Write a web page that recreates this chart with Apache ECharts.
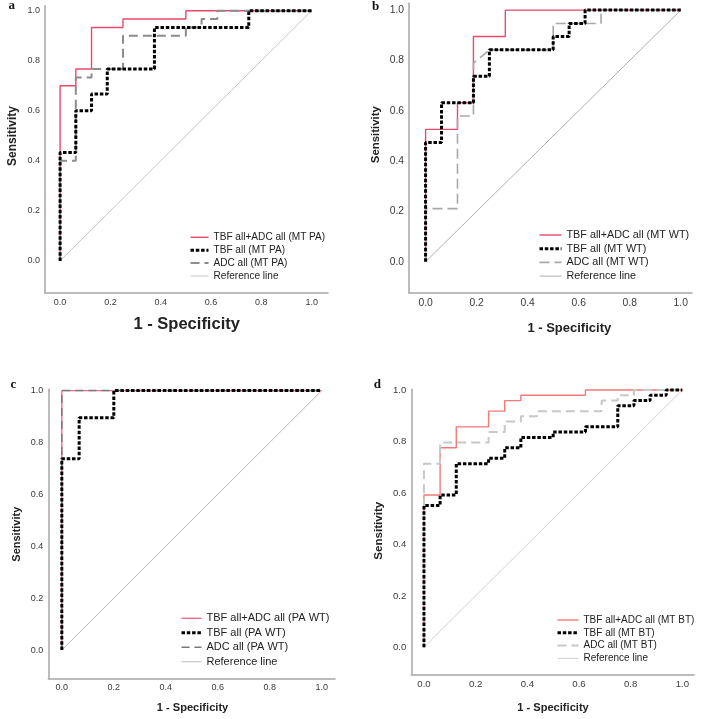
<!DOCTYPE html>
<html>
<head>
<meta charset="utf-8">
<script src="https://cdn.jsdelivr.net/npm/echarts@6/dist/echarts.min.js"></script>
<style>
html,body{margin:0;padding:0;background:#fff;}
#chart{width:708px;height:719px;}
</style>
</head>
<body>
<div id="chart"></div>
<script>
// ---------- DATA (ROC points: 1 - specificity, sensitivity) ----------
const tickValues = [0, 0.2, 0.4, 0.6, 0.8, 1.0];
const refFpr = [0, 1];
const refTpr = [0, 1];

// Panel a: MT vs PA
const aNames = ['TBF all+ADC all (MT PA)', 'TBF all (MT PA)', 'ADC all (MT PA)'];
const aCombinedFpr = [0, 0, 0.0625, 0.0625, 0.125, 0.125, 0.25, 0.25, 0.5, 0.5, 1];
const aCombinedTpr = [0, 0.700, 0.700, 0.767, 0.767, 0.933, 0.933, 0.967, 0.967, 1, 1];
const aTbfFpr = [0, 0, 0.0625, 0.0625, 0.125, 0.125, 0.1875, 0.1875, 0.375, 0.375, 0.75, 0.75, 1];
const aTbfTpr = [0, 0.433, 0.433, 0.600, 0.600, 0.667, 0.667, 0.767, 0.767, 0.933, 0.933, 1, 1];
const aAdcFpr = [0, 0, 0.0625, 0.0625, 0.125, 0.125, 0.25, 0.25, 0.5, 0.5, 0.5625, 0.5625, 0.625, 0.625, 1];
const aAdcTpr = [0, 0.400, 0.400, 0.733, 0.733, 0.767, 0.767, 0.900, 0.900, 0.933, 0.933, 0.967, 0.967, 1, 1];

// Panel b: MT vs WT
const bNames = ['TBF all+ADC all (MT WT)', 'TBF all (MT WT)', 'ADC all (MT WT)'];
const bCombinedFpr = [0, 0, 0.125, 0.125, 0.1875, 0.1875, 0.3125, 0.3125, 1];
const bCombinedTpr = [0, 0.526, 0.526, 0.632, 0.632, 0.895, 0.895, 1, 1];
const bTbfFpr = [0, 0, 0.0625, 0.0625, 0.1875, 0.1875, 0.25, 0.25, 0.5, 0.5, 0.5625, 0.5625, 0.625, 0.625, 1];
const bTbfTpr = [0, 0.474, 0.474, 0.632, 0.632, 0.737, 0.737, 0.842, 0.842, 0.895, 0.895, 0.947, 0.947, 1, 1];
const bAdcFpr = [0, 0, 0.125, 0.125, 0.1875, 0.1875, 0.25, 0.5, 0.5, 0.6875, 0.6875, 1];
const bAdcTpr = [0, 0.211, 0.211, 0.579, 0.579, 0.789, 0.842, 0.842, 0.947, 0.947, 1, 1];

// Panel c: PA vs WT
const cNames = ['TBF all+ADC all (PA WT)', 'TBF all (PA WT)', 'ADC all (PA WT)'];
const cCombinedFpr = [0, 0, 1];
const cCombinedTpr = [0, 1, 1];
const cTbfFpr = [0, 0, 0.0667, 0.0667, 0.2, 0.2, 1];
const cTbfTpr = [0, 0.737, 0.737, 0.895, 0.895, 1, 1];
const cAdcFpr = [0, 0, 1];
const cAdcTpr = [0, 1, 1];

// Panel d: MT vs BT
const dNames = ['TBF all+ADC all (MT BT)', 'TBF all (MT BT)', 'ADC all (MT BT)'];
const dCombinedFpr = [0, 0, 0.0625, 0.0625, 0.125, 0.125, 0.25, 0.25, 0.3125, 0.3125, 0.375, 0.375, 0.625, 0.625, 1];
const dCombinedTpr = [0, 0.592, 0.592, 0.776, 0.776, 0.857, 0.857, 0.918, 0.918, 0.959, 0.959, 0.980, 0.980, 1, 1];
const dTbfFpr = [0, 0, 0.0625, 0.0625, 0.125, 0.125, 0.25, 0.25, 0.3125, 0.3125, 0.375, 0.375, 0.5, 0.5, 0.625, 0.625, 0.75, 0.75, 0.8125, 0.8125, 0.875, 0.875, 0.9375, 0.9375, 1];
const dTbfTpr = [0, 0.551, 0.551, 0.592, 0.592, 0.714, 0.714, 0.735, 0.735, 0.776, 0.776, 0.816, 0.816, 0.837, 0.837, 0.857, 0.857, 0.939, 0.939, 0.959, 0.959, 0.980, 0.980, 1, 1];
const dAdcFpr = [0, 0, 0.0625, 0.0625, 0.25, 0.25, 0.3125, 0.3125, 0.375, 0.375, 0.4375, 0.4375, 0.6875, 0.6875, 0.75, 0.75, 0.8125, 0.8125, 1];
const dAdcTpr = [0, 0.714, 0.714, 0.796, 0.796, 0.837, 0.837, 0.878, 0.878, 0.898, 0.898, 0.918, 0.918, 0.959, 0.959, 0.980, 0.980, 1, 1];

const panelLetters = ['a', 'b', 'c', 'd'];
const refName = 'Reference line';
const xTitle = '1 - Specificity';
const yTitle = 'Sensitivity';

// ---------- LAYOUT / STYLE ----------
const panels = [
  { names: aNames, data: [[aCombinedFpr, aCombinedTpr], [aTbfFpr, aTbfTpr], [aAdcFpr, aAdcTpr]],
    grid: { left: 45, top: 5.7, width: 283, height: 287.3 }, x: [-0.06, 1.065], y: [-0.128, 1.02],
    tickFont: 9, red: '#e84a6a', gray: { color: '#8c8c8c', width: 2, dash: [9, 5] }, ref: '#c8c8c8',
    legend: { left: 189, top: 231.8, font: 10.1, lh: 11, gap: 1.9, iw: 18 },
    xt: { x: 186.7, y: 324, size: 16.5 }, yt: { x: 12.7, y: 136, size: 12 }, letter: { x: 11.7, y: 6 } },
  { names: bNames, data: [[bCombinedFpr, bCombinedTpr], [bTbfFpr, bTbfTpr], [bAdcFpr, bAdcTpr]],
    grid: { left: 409, top: 3.3, width: 283, height: 289.4 }, x: [-0.065, 1.044], y: [-0.123, 1.027],
    tickFont: 10.3, red: '#e84a6a', gray: { color: '#a8a8a8', width: 1.6, dash: [10, 5] }, ref: '#b0b0b0',
    legend: { left: 538, top: 229, font: 10.8, lh: 12, gap: 1.7, iw: 22 },
    xt: { x: 569.3, y: 328.3, size: 13 }, yt: { x: 375.7, y: 134.7, size: 11.4 }, letter: { x: 375.7, y: 6.7 } },
  { names: cNames, data: [[cCombinedFpr, cCombinedTpr], [cTbfFpr, cTbfTpr], [cAdcFpr, cAdcTpr]],
    grid: { left: 48.3, top: 389.3, width: 286.7, height: 289 }, x: [-0.052, 1.051], y: [-0.109, 1.005],
    tickFont: 9, red: '#f06a8a', gray: { color: '#7a7a7a', width: 1.5, dash: [8, 5] }, ref: '#b8b8b8',
    legend: { left: 180, top: 612.3, font: 11, lh: 12, gap: 2.5, iw: 20 },
    xt: { x: 192.5, y: 708.3, size: 11.1 }, yt: { x: 17.3, y: 534.2, size: 11 }, letter: { x: 13.3, y: 385 } },
  { names: dNames, data: [[dCombinedFpr, dCombinedTpr], [dTbfFpr, dTbfTpr], [dAdcFpr, dAdcTpr]],
    grid: { left: 411.3, top: 389.3, width: 282.7, height: 285 }, x: [-0.049, 1.045], y: [-0.105, 1.003],
    tickFont: 9.6, red: '#f47878', gray: { color: '#c8c8c8', width: 2, dash: [9, 5] }, ref: '#d2d2d2',
    legend: { left: 556, top: 614.5, font: 10, lh: 11, gap: 1.8, iw: 21 },
    xt: { x: 553, y: 708.3, size: 11.1 }, yt: { x: 379, y: 530.8, size: 11.6 }, letter: { x: 377.3, y: 385 } }
];

const FONT = '"Liberation Sans", Arial, sans-serif';
const axisColor = '#a6a6a6';
const blackDash = [3.5, 1.8];

const zip = (xs, ys) => xs.map((x, i) => [x, ys[i]]);

const grids = [], xAxes = [], yAxes = [], series = [], legends = [], graphics = [];

panels.forEach((p, i) => {
  grids.push(Object.assign({ containLabel: false }, p.grid));
  const labelCommon = {
    customValues: tickValues,
    formatter: v => v.toFixed(1),
    fontSize: p.tickFont, color: '#3a3a3a', fontFamily: FONT
  };
  xAxes.push({
    type: 'value', gridIndex: i, min: p.x[0], max: p.x[1],
    axisLine: { show: true, onZero: false, lineStyle: { color: axisColor, width: 1.5 } },
    axisTick: { show: false }, splitLine: { show: false },
    axisLabel: Object.assign({ margin: 5 }, labelCommon)
  });
  yAxes.push({
    type: 'value', gridIndex: i, min: p.y[0], max: p.y[1],
    axisLine: { show: true, onZero: false, lineStyle: { color: axisColor, width: 1.5 } },
    axisTick: { show: false }, splitLine: { show: false },
    axisLabel: Object.assign({ margin: 5 }, labelCommon)
  });

  const refSeriesName = refName + '#' + i;
  series.push({
    type: 'line', name: refSeriesName, xAxisIndex: i, yAxisIndex: i,
    data: zip(refFpr, refTpr), showSymbol: false, symbol: 'none', silent: true,
    lineStyle: { color: p.ref, width: 1 }, itemStyle: { color: p.ref }, z: 1
  });
  series.push({
    type: 'line', name: p.names[0], xAxisIndex: i, yAxisIndex: i,
    data: zip(p.data[0][0], p.data[0][1]), showSymbol: false, symbol: 'none',
    lineStyle: { color: p.red, width: 1.4 }, itemStyle: { color: p.red }, z: 2
  });
  series.push({
    type: 'line', name: p.names[2], xAxisIndex: i, yAxisIndex: i,
    data: zip(p.data[2][0], p.data[2][1]), showSymbol: false, symbol: 'none',
    lineStyle: { color: p.gray.color, width: p.gray.width, type: p.gray.dash, cap: 'butt' },
    itemStyle: { color: p.gray.color }, z: 3
  });
  series.push({
    type: 'line', name: p.names[1], xAxisIndex: i, yAxisIndex: i,
    data: zip(p.data[1][0], p.data[1][1]), showSymbol: false, symbol: 'none',
    lineStyle: { color: '#000', width: 3, type: blackDash, cap: 'butt' },
    itemStyle: { color: '#000' }, z: 4
  });

  legends.push({
    orient: 'vertical', left: p.legend.left, top: p.legend.top, padding: 0,
    itemWidth: p.legend.iw, itemHeight: p.legend.lh, itemGap: p.legend.gap,
    selectedMode: false,
    itemStyle: { opacity: 0, borderWidth: 0 },
    data: [
      { name: p.names[0], lineStyle: { color: p.red, width: 1.4, type: 'solid' } },
      { name: p.names[1], lineStyle: { color: '#000', width: 3, type: blackDash } },
      { name: p.names[2], lineStyle: { color: p.gray.color, width: p.gray.width, type: p.gray.dash } },
      { name: refSeriesName, lineStyle: { color: p.ref, width: 1, type: 'solid' } }
    ],
    formatter: n => n.split('#')[0],
    textStyle: { fontSize: p.legend.font, lineHeight: p.legend.lh, color: '#222', fontFamily: FONT }
  });

  graphics.push({
    type: 'text', x: p.xt.x, y: p.xt.y,
    style: { text: xTitle, font: 'bold ' + p.xt.size + 'px ' + FONT, fill: '#222',
             textAlign: 'center', textVerticalAlign: 'middle' }
  });
  graphics.push({
    type: 'text', x: p.yt.x, y: p.yt.y, rotation: Math.PI / 2,
    style: { text: yTitle, font: 'bold ' + p.yt.size + 'px ' + FONT, fill: '#222',
             textAlign: 'center', textVerticalAlign: 'middle' }
  });
  graphics.push({
    type: 'text', x: p.letter.x, y: p.letter.y,
    style: { text: panelLetters[i], font: 'bold 13px "Liberation Serif", "Times New Roman", serif', fill: '#111',
             textAlign: 'center', textVerticalAlign: 'middle' }
  });
});

const chart = echarts.init(document.getElementById('chart'), null, { renderer: 'canvas' });
chart.setOption({
  animation: false,
  backgroundColor: '#fff',
  grid: grids, xAxis: xAxes, yAxis: yAxes,
  legend: legends,
  series: series,
  graphic: graphics
});
</script>
</body>
</html>
